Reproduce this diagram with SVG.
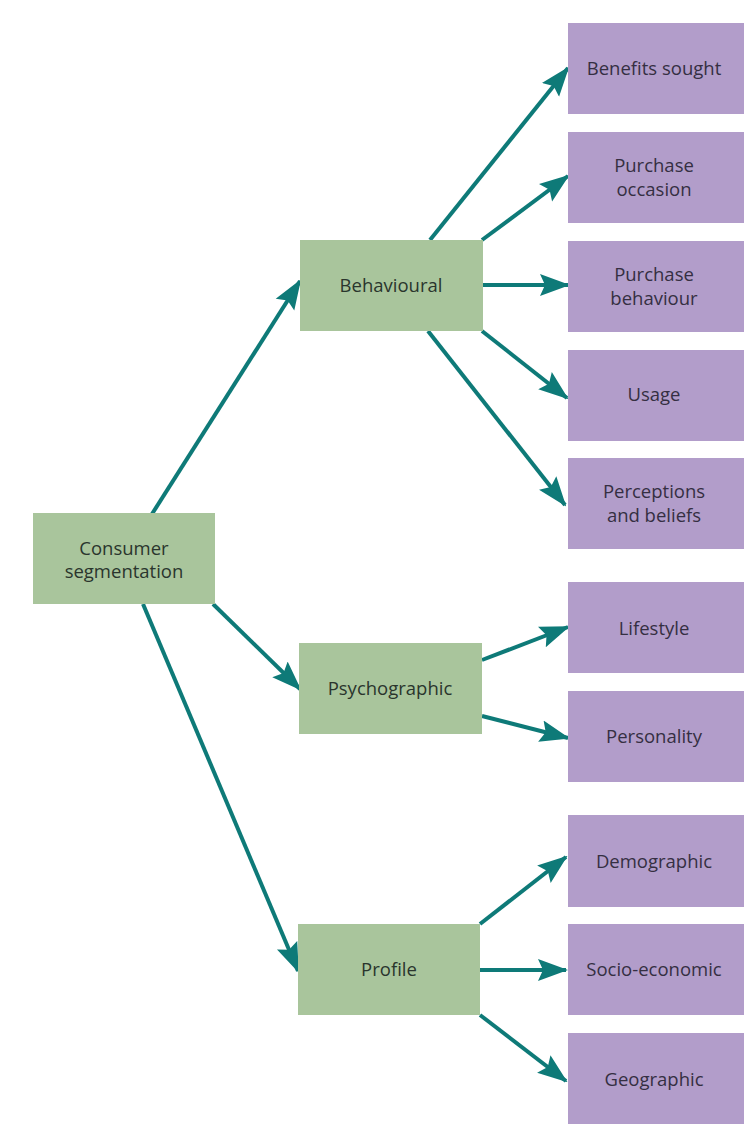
<svg xmlns="http://www.w3.org/2000/svg" width="744" height="1135" viewBox="0 0 744 1135">
<style>
.g{fill:#a9c59c}
.p{fill:#b29dca}
.t{font-family:"Open Sans","Noto Sans",sans-serif;font-size:18.5px;fill:#2a352d;text-anchor:middle}
.tp{font-family:"Open Sans","Noto Sans",sans-serif;font-size:18.5px;fill:#352f42;text-anchor:middle}
.c line{stroke:#0e7a78;stroke-width:4;marker-end:url(#ah)}
</style>
<defs>
<marker id="ah" markerUnits="userSpaceOnUse" markerWidth="30" markerHeight="24" viewBox="0 0 30 24" refX="28" refY="12" orient="auto">
<path d="M0,1 L30,12 L0,23 L5,12 Z" fill="#0e7a78"/>
</marker>
</defs>
<rect width="744" height="1135" fill="#ffffff"/>
<g class="c" id="connectors">
<line x1="152" y1="514" x2="300" y2="281"/>
<line x1="213" y1="604" x2="300" y2="689"/>
<line x1="143" y1="604" x2="298" y2="971"/>
<line x1="430" y1="240" x2="568" y2="68"/>
<line x1="482" y1="240" x2="568" y2="176"/>
<line x1="483" y1="285" x2="568" y2="285"/>
<line x1="482" y1="331" x2="567" y2="398"/>
<line x1="428" y1="331" x2="565" y2="505"/>
<line x1="482" y1="660" x2="568" y2="627"/>
<line x1="482" y1="716" x2="568" y2="738"/>
<line x1="480" y1="924" x2="566" y2="857"/>
<line x1="480" y1="970" x2="566" y2="970"/>
<line x1="480" y1="1015" x2="566" y2="1081"/>
</g>
<g id="consumer"><rect class="g" x="33" y="513" width="182" height="91"/><text class="t" x="124" y="555">Consumer</text><text class="t" x="124" y="578">segmentation</text></g>
<g id="behavioural"><rect class="g" x="300" y="240" width="183" height="91"/><text class="t" x="391" y="292">Behavioural</text></g>
<g id="psychographic"><rect class="g" x="299" y="643" width="183" height="91"/><text class="t" x="390" y="695">Psychographic</text></g>
<g id="profile"><rect class="g" x="298" y="924" width="182" height="91"/><text class="t" x="389" y="976">Profile</text></g>
<g id="benefits"><rect class="p" x="568" y="23" width="176" height="91"/><text class="tp" x="654" y="75">Benefits sought</text></g>
<g id="occasion"><rect class="p" x="568" y="132" width="176" height="91"/><text class="tp" x="654" y="172">Purchase</text><text class="tp" x="654" y="196">occasion</text></g>
<g id="behaviour"><rect class="p" x="568" y="241" width="176" height="91"/><text class="tp" x="654" y="281">Purchase</text><text class="tp" x="654" y="305">behaviour</text></g>
<g id="usage"><rect class="p" x="568" y="350" width="176" height="91"/><text class="tp" x="654" y="401">Usage</text></g>
<g id="perceptions"><rect class="p" x="568" y="458" width="176" height="91"/><text class="tp" x="654" y="498">Perceptions</text><text class="tp" x="654" y="522">and beliefs</text></g>
<g id="lifestyle"><rect class="p" x="568" y="582" width="176" height="91"/><text class="tp" x="654" y="635">Lifestyle</text></g>
<g id="personality"><rect class="p" x="568" y="691" width="176" height="91"/><text class="tp" x="654" y="743">Personality</text></g>
<g id="demographic"><rect class="p" x="568" y="815" width="176" height="92"/><text class="tp" x="654" y="868">Demographic</text></g>
<g id="socio"><rect class="p" x="568" y="924" width="176" height="91"/><text class="tp" x="654" y="976">Socio-economic</text></g>
<g id="geographic"><rect class="p" x="568" y="1033" width="176" height="91"/><text class="tp" x="654" y="1086">Geographic</text></g>
</svg>
